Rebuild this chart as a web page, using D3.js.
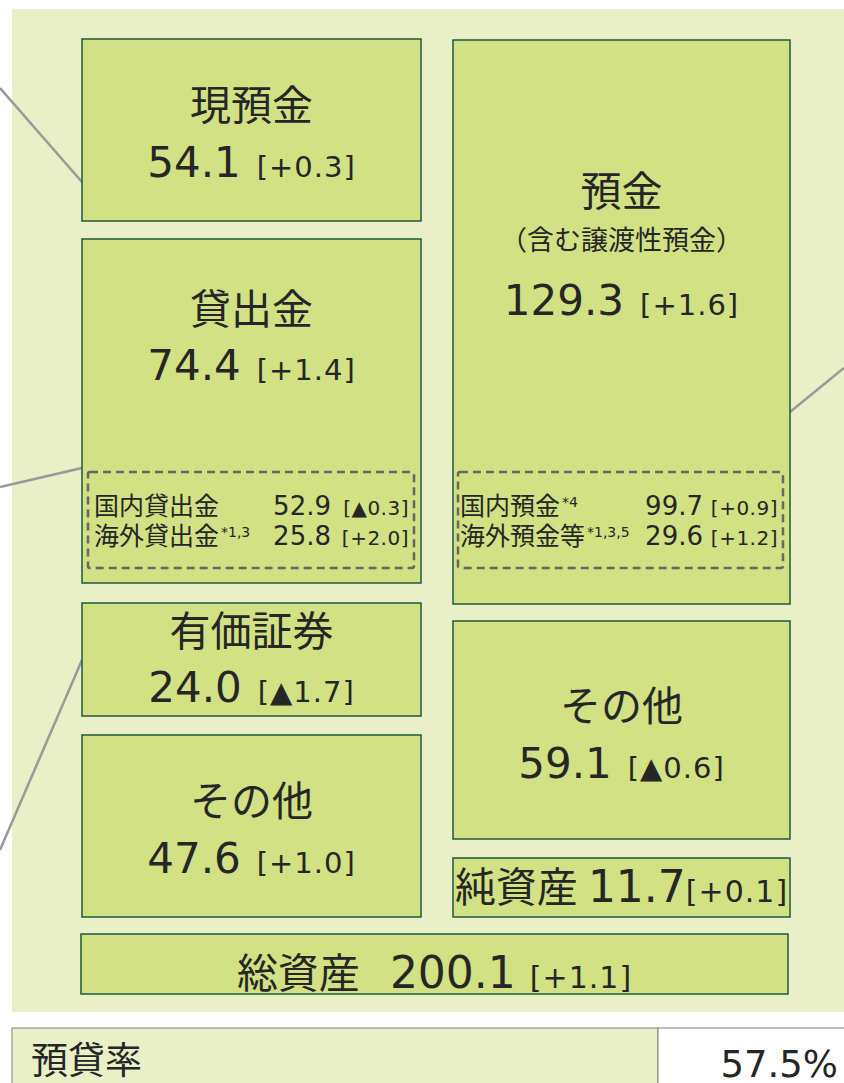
<!DOCTYPE html>
<html>
<head>
<meta charset="utf-8">
<script src="https://cdn.jsdelivr.net/npm/d3@7"></script>
<style>
  body { margin: 0; background: #fff; }
  svg { display: block; }
</style>
</head>
<body>
<svg id="chart"></svg>
<script>
const width = 844;
const height = 1083;

// DATA
const unitLabel = "（兆円）";

const assetNames = ["現預金", "貸出金", "有価証券", "その他"];
const assetValues = [54.1, 74.4, 24.0, 47.6];
const assetChanges = ["+0.3", "+1.4", "▲1.7", "+1.0"];

const liabNames = ["預金", "その他", "純資産"];
const liabValues = [129.3, 59.1, 11.7];
const liabChanges = ["+1.6", "▲0.6", "+0.1"];
const depositNote = "（含む譲渡性預金）";

const loanNames = ["国内貸出金", "海外貸出金"];
const loanNotes = ["", "*1,3"];
const loanValues = [52.9, 25.8];
const loanChanges = ["▲0.3", "+2.0"];

const depoNames = ["国内預金", "海外預金等"];
const depoNotes = ["*4", "*1,3,5"];
const depoValues = [99.7, 29.6];
const depoChanges = ["+0.9", "+1.2"];

const totalName = "総資産";
const totalValue = 200.1;
const totalChange = "+1.1";

const ratioName = "預貸率";
const ratioValue = 57.5;

// LAYOUT (boxes are a diagram, not proportional)
const leftX = [82, 421];
const rightX = [453, 790];
const leftRows = [[39, 221], [239, 583], [603, 716], [735, 917]];
const rightRows = [[40, 604], [621, 839], [858, 917]];
const leftTitleY = [120, 324, 646, 816];
const leftValueY = [177, 380, 702, 873];
const rightTitleY = [206, 721];
const rightValueY = [315, 778];

const fmt = d3.format(".1f");
const jp = "'Noto Sans CJK JP', sans-serif";
const num = "'DejaVu Sans', 'Noto Sans CJK JP', sans-serif";
const textColor = "#262626";
const boxFill = "#d1e183";
const boxStroke = "#1e5a3c";

const svg = d3.select("#chart")
  .attr("width", width)
  .attr("height", height);

// background panel
svg.append("rect")
  .attr("x", 12).attr("y", 9)
  .attr("width", width - 12).attr("height", 1003)
  .attr("fill", "#e9f0c7");

svg.append("text")
  .attr("x", 2).attr("y", -4)
  .style("font-family", jp).style("font-size", "26px")
  .attr("fill", textColor)
  .text(unitLabel);

// connector lines coming from the left/right of the picture
const connectors = [
  [[0, 88], [82, 182]],
  [[0, 487], [82, 468]],
  [[0, 850], [82, 660]],
  [[790, 412], [844, 368]]
];
svg.selectAll("line.conn")
  .data(connectors)
  .enter()
  .append("line")
    .attr("class", "conn")
    .attr("x1", d => d[0][0]).attr("y1", d => d[0][1])
    .attr("x2", d => d[1][0]).attr("y2", d => d[1][1])
    .attr("stroke", "#999")
    .attr("stroke-width", 2.5);

function drawBox(x0, x1, y0, y1) {
  svg.append("rect")
    .attr("x", x0).attr("y", y0)
    .attr("width", x1 - x0).attr("height", y1 - y0)
    .attr("fill", boxFill)
    .attr("stroke", boxStroke)
    .attr("stroke-width", 1.5);
}

function valueLine(cx, y, value, change, gap) {
  const t = svg.append("text")
    .attr("x", cx).attr("y", y)
    .attr("text-anchor", "middle")
    .attr("fill", textColor)
    .style("font-family", num);
  t.append("tspan").style("font-size", "42px").text(fmt(value));
  t.append("tspan").attr("dx", gap).style("font-size", "29px")
    .style("letter-spacing", "1px")
    .text(`[${change}]`);
}

function title(cx, y, label, size) {
  svg.append("text")
    .attr("x", cx).attr("y", y)
    .attr("text-anchor", "middle")
    .attr("fill", textColor)
    .style("font-family", jp)
    .style("font-size", size + "px")
    .text(label);
}

// LEFT COLUMN
assetNames.forEach((name, i) => {
  const [y0, y1] = leftRows[i];
  drawBox(leftX[0], leftX[1], y0, y1);
  const cx = (leftX[0] + leftX[1]) / 2;
  title(cx, leftTitleY[i], name, 41);
  valueLine(cx, leftValueY[i], assetValues[i], assetChanges[i], 16);
});

// RIGHT COLUMN
liabNames.forEach((name, i) => {
  const [y0, y1] = rightRows[i];
  drawBox(rightX[0], rightX[1], y0, y1);
  const cx = (rightX[0] + rightX[1]) / 2;
  if (i < 2) {
    title(cx, rightTitleY[i], name, 41);
    valueLine(cx, rightValueY[i], liabValues[i], liabChanges[i], 16);
  } else {
    const t = svg.append("text")
      .attr("x", cx).attr("y", 902)
      .attr("text-anchor", "middle")
      .attr("fill", textColor);
    t.append("tspan").style("font-family", jp).style("font-size", "41px").text(name);
    t.append("tspan").attr("dx", 10).style("font-family", num).style("font-size", "44px").text(fmt(liabValues[i]));
    t.append("tspan").style("font-family", num).style("font-size", "30px")
      .style("letter-spacing", "1px").text(`[${liabChanges[i]}]`);
  }
});

title((rightX[0] + rightX[1]) / 2, 250, depositNote, 27);

// breakdown boxes (dashed)
function breakdown(x0, x1, names, notes, values, changes, valueEnd, pad) {
  svg.append("rect")
    .attr("x", x0).attr("y", 472)
    .attr("width", x1 - x0).attr("height", 96)
    .attr("rx", 2)
    .attr("fill", "none")
    .attr("stroke", "#666")
    .attr("stroke-width", 2.5)
    .attr("stroke-dasharray", "8,5");

  const rowY = d3.scalePoint().domain(names).range([515, 545]);

  names.forEach((name, i) => {
    const y = rowY(name);
    const t = svg.append("text")
      .attr("x", x0 + pad).attr("y", y)
      .attr("fill", textColor)
      .style("font-family", jp);
    t.append("tspan").style("font-size", "25px").text(name);
    if (notes[i]) {
      t.append("tspan").attr("dy", -8).attr("dx", 2)
        .style("font-family", num).style("font-size", "14px").text(notes[i]);
    }
    svg.append("text")
      .attr("x", valueEnd).attr("y", y)
      .attr("text-anchor", "end")
      .attr("fill", textColor)
      .style("font-family", num).style("font-size", "26px")
      .text(fmt(values[i]));
    svg.append("text")
      .attr("x", x1 - 5).attr("y", y)
      .attr("text-anchor", "end")
      .attr("fill", textColor)
      .style("font-family", num).style("font-size", "20px")
      .style("letter-spacing", "0.5px")
      .text(`[${changes[i]}]`);
  });
}

breakdown(88, 414, loanNames, loanNotes, loanValues, loanChanges, 331, 6);
breakdown(458, 783, depoNames, depoNotes, depoValues, depoChanges, 703, 2);

// TOTAL
drawBox(81, 788, 934, 994);
{
  const t = svg.append("text")
    .attr("x", (81 + 788) / 2).attr("y", 988)
    .attr("text-anchor", "middle")
    .attr("fill", textColor);
  t.append("tspan").style("font-family", jp).style("font-size", "41px").text(totalName);
  t.append("tspan").attr("dx", 30).style("font-family", num).style("font-size", "44px").text(fmt(totalValue));
  t.append("tspan").attr("dx", 14).style("font-family", num).style("font-size", "30px")
    .style("letter-spacing", "1px").text(`[${totalChange}]`);
}

// RATIO TABLE
svg.append("rect")
  .attr("x", 12).attr("y", 1028)
  .attr("width", 646).attr("height", 80)
  .attr("fill", "#e9f0c7")
  .attr("stroke", "#808080").attr("stroke-width", 1);
svg.append("rect")
  .attr("x", 658).attr("y", 1028)
  .attr("width", 200).attr("height", 80)
  .attr("fill", "#fff")
  .attr("stroke", "#808080").attr("stroke-width", 1);

svg.append("text")
  .attr("x", 31).attr("y", 1074)
  .attr("fill", textColor)
  .style("font-family", jp).style("font-size", "37px")
  .text(ratioName);
svg.append("text")
  .attr("x", 838).attr("y", 1077)
  .attr("text-anchor", "end")
  .attr("fill", textColor)
  .style("font-family", num).style("font-size", "37px")
  .text(fmt(ratioValue) + "%");
</script>
</body>
</html>
